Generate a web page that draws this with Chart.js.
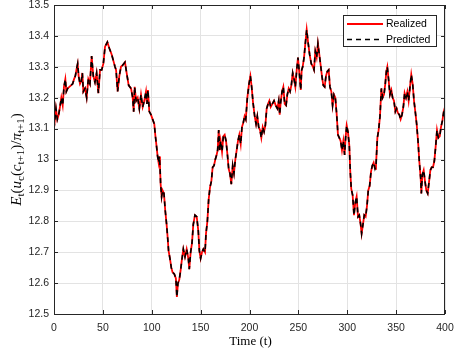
<!DOCTYPE html>
<html>
<head>
<meta charset="utf-8">
<script src="https://cdn.jsdelivr.net/npm/chart.js@4.4.1/dist/chart.umd.min.js"></script>
<style>
  html, body { margin: 0; padding: 0; background: #ffffff; }
  canvas { display: block; }
</style>
</head>
<body>
<canvas id="chart" width="455" height="358"></canvas>
<script>
// Time index of each sample
const timeSteps = [
  0, 2.0, 3.4, 4.8, 6.1, 7.5, 8.9, 10.2, 11.6, 12.6, 14.0, 15.7, 17.4, 19.1, 20.5, 21.8, 23.2, 24.2, 25.2, 26.6,
  28.0, 29.0, 30.0, 31.7, 33.4, 35.1, 36.8, 38.5, 40.2, 41.9, 43.6, 45.4, 47.1, 48.8, 50.5, 52.2, 54.6, 56.6, 59.0, 60.7,
  62.4, 63.5, 65.1, 66.8, 68.5, 70.2, 72.6, 74.3, 76.4, 78.8, 80.5, 81.5, 82.5, 84.0, 85.6, 87.3, 89.0, 90.7, 92.4, 94.1,
  95.1, 96.1, 97.5, 99.2, 100.9, 102.6, 103.6, 105.0, 106.0, 107.0, 107.7, 108.4, 109.1, 110.1, 111.1, 112.5, 113.8, 115.2, 116.2, 117.2,
  118.6, 120.0, 121.3, 123.0, 124.7, 125.7, 126.8, 128.1, 129.5, 130.6, 132.3, 134.0, 135.7, 137.4, 138.4, 139.8, 141.2, 142.5, 144.2, 146.0,
  147.6, 148.7, 150.0, 151.4, 152.8, 154.5, 155.5, 156.9, 158.2, 159.6, 161.0, 162.3, 163.7, 165.0, 166.4, 167.4, 168.5, 169.5, 170.5, 171.9,
  173.2, 174.6, 176.0, 177.3, 178.7, 180.0, 181.4, 182.8, 184.1, 185.5, 186.9, 188.2, 189.6, 191.0, 192.3, 193.7, 195.0, 196.2, 197.8, 199.5,
  200.9, 202.2, 203.6, 205.3, 206.7, 208.0, 209.4, 210.8, 212.1, 213.5, 214.9, 216.2, 217.6, 219.0, 220.3, 221.7, 223.4, 225.1, 226.8, 228.5,
  229.9, 230.9, 231.9, 233.3, 234.6, 236.0, 237.4, 238.7, 240.1, 241.5, 242.8, 244.2, 245.6, 246.9, 248.3, 249.6, 251.0, 252.4, 253.4, 254.4,
  255.8, 257.1, 258.5, 259.9, 261.5, 263.2, 264.9, 266.0, 267.3, 268.7, 270.0, 271.4, 272.8, 274.1, 275.5, 276.9, 278.2, 279.6, 281.0, 282.3,
  283.7, 285.0, 286.4, 287.8, 289.1, 290.5, 291.9, 293.2, 294.6, 296.0, 297.3, 298.3, 299.4, 300.7, 302.1, 303.1, 304.1, 305.5, 306.9, 308.2,
  309.6, 311.0, 312.3, 313.7, 314.7, 316.1, 317.4, 318.8, 320.2, 321.5, 322.9, 324.3, 325.6, 327.0, 328.4, 329.4, 330.8, 332.1, 333.5, 334.9,
  336.2, 337.6, 338.9, 340.0, 341.0, 342.4, 343.7, 345.1, 346.4, 347.8, 349.2, 350.5, 351.9, 353.3, 354.6, 356.0, 357.4, 358.7, 360.1, 361.5,
  362.8, 364.2, 365.5, 366.9, 368.3, 369.6, 371.0, 372.4, 373.7, 375.1, 375.8, 376.8, 378.2, 379.5, 380.9, 382.3, 383.6, 385.0, 386.4, 387.7,
  389.1, 390.4, 391.8, 393.2, 394.6, 395.9, 397.3, 398.7, 400.0
];

// Realized expected marginal utility over inflation
const realizedValues = [
  13.100, 13.165, 13.130, 13.145, 13.170, 13.200, 13.175, 13.235, 13.260, 13.220, 13.230, 13.235, 13.240, 13.245, 13.260, 13.270, 13.295, 13.310, 13.270, 13.245,
  13.255, 13.280, 13.220, 13.230, 13.200, 13.260, 13.245, 13.335, 13.270, 13.250, 13.280, 13.215, 13.290, 13.290, 13.310, 13.365, 13.380, 13.360, 13.340, 13.320,
  13.300, 13.290, 13.220, 13.270, 13.300, 13.305, 13.315, 13.280, 13.240, 13.230, 13.200, 13.155, 13.235, 13.190, 13.200, 13.165, 13.210, 13.170, 13.190, 13.220,
  13.180, 13.225, 13.155, 13.145, 13.130, 13.115, 13.080, 13.040, 13.010, 12.990, 13.010, 12.980, 12.920, 12.880, 12.900, 12.890, 12.835, 12.790, 12.750, 12.705,
  12.680, 12.650, 12.635, 12.630, 12.615, 12.555, 12.600, 12.610, 12.640, 12.670, 12.710, 12.685, 12.710, 12.680, 12.645, 12.700, 12.730, 12.790, 12.820, 12.815,
  12.770, 12.705, 12.680, 12.700, 12.710, 12.700, 12.760, 12.800, 12.870, 12.910, 12.930, 12.975, 12.980, 13.000, 13.015, 13.030, 13.095, 13.030, 13.060, 13.025,
  13.075, 13.080, 13.060, 13.020, 12.970, 12.955, 12.920, 12.980, 12.955, 13.000, 13.030, 13.060, 13.080, 13.050, 13.105, 13.120, 13.140, 13.130, 13.200, 13.245,
  13.270, 13.235, 13.185, 13.140, 13.115, 13.140, 13.105, 13.095, 13.070, 13.105, 13.090, 13.110, 13.165, 13.180, 13.190, 13.170, 13.180, 13.190, 13.175, 13.165,
  13.190, 13.145, 13.185, 13.220, 13.235, 13.180, 13.175, 13.210, 13.230, 13.220, 13.240, 13.280, 13.260, 13.235, 13.290, 13.330, 13.280, 13.225, 13.290, 13.300,
  13.330, 13.375, 13.420, 13.380, 13.340, 13.310, 13.300, 13.290, 13.350, 13.330, 13.375, 13.340, 13.305, 13.270, 13.240, 13.235, 13.270, 13.285, 13.290, 13.235,
  13.220, 13.175, 13.210, 13.200, 13.150, 13.080, 13.070, 13.060, 13.030, 13.060, 13.015, 13.070, 13.110, 13.090, 13.045, 12.960, 12.905, 12.885, 12.820, 12.860,
  12.880, 12.815, 12.820, 12.790, 12.760, 12.790, 12.820, 12.815, 12.850, 12.900, 12.915, 12.960, 12.980, 12.990, 12.970, 12.980, 13.070, 13.095, 13.140, 13.230,
  13.200, 13.210, 13.245, 13.285, 13.300, 13.255, 13.210, 13.225, 13.200, 13.190, 13.155, 13.165, 13.150, 13.145, 13.130, 13.145, 13.170, 13.215, 13.200, 13.220,
  13.190, 13.235, 13.275, 13.245, 13.190, 13.155, 13.115, 13.060, 12.995, 12.940, 12.890, 12.950, 12.965, 12.930, 12.900, 12.890, 12.925, 12.965, 12.975, 12.975,
  12.995, 13.040, 13.095, 13.070, 13.075, 13.105, 13.125, 13.155, 13.170
];

// Model prediction of the same quantity
const predictedValues = [
  13.100, 13.165, 13.130, 13.145, 13.170, 13.200, 13.175, 13.235, 13.260, 13.220, 13.230, 13.235, 13.240, 13.245, 13.260, 13.270, 13.295, 13.310, 13.270, 13.245,
  13.255, 13.280, 13.220, 13.230, 13.200, 13.260, 13.245, 13.335, 13.270, 13.250, 13.280, 13.215, 13.290, 13.290, 13.310, 13.365, 13.380, 13.360, 13.340, 13.320,
  13.300, 13.290, 13.220, 13.270, 13.300, 13.305, 13.315, 13.280, 13.240, 13.230, 13.200, 13.155, 13.235, 13.190, 13.200, 13.165, 13.210, 13.170, 13.190, 13.220,
  13.180, 13.225, 13.155, 13.145, 13.130, 13.115, 13.080, 13.040, 13.010, 12.990, 13.010, 12.980, 12.920, 12.880, 12.900, 12.890, 12.835, 12.790, 12.750, 12.705,
  12.680, 12.650, 12.635, 12.630, 12.615, 12.555, 12.600, 12.610, 12.640, 12.670, 12.710, 12.685, 12.710, 12.680, 12.645, 12.700, 12.730, 12.790, 12.820, 12.815,
  12.770, 12.705, 12.680, 12.700, 12.710, 12.700, 12.760, 12.800, 12.870, 12.910, 12.930, 12.975, 12.980, 13.000, 13.015, 13.030, 13.095, 13.030, 13.060, 13.025,
  13.075, 13.080, 13.060, 13.020, 12.970, 12.955, 12.920, 12.980, 12.955, 13.000, 13.030, 13.060, 13.080, 13.050, 13.105, 13.120, 13.140, 13.130, 13.200, 13.245,
  13.270, 13.235, 13.185, 13.140, 13.115, 13.140, 13.105, 13.095, 13.070, 13.105, 13.090, 13.110, 13.165, 13.180, 13.190, 13.170, 13.180, 13.190, 13.175, 13.165,
  13.190, 13.145, 13.185, 13.220, 13.235, 13.180, 13.175, 13.210, 13.230, 13.220, 13.240, 13.280, 13.260, 13.235, 13.290, 13.330, 13.280, 13.225, 13.290, 13.300,
  13.330, 13.375, 13.420, 13.380, 13.340, 13.310, 13.300, 13.290, 13.350, 13.330, 13.375, 13.340, 13.305, 13.270, 13.240, 13.235, 13.270, 13.285, 13.290, 13.235,
  13.220, 13.175, 13.210, 13.200, 13.150, 13.080, 13.070, 13.060, 13.030, 13.060, 13.015, 13.070, 13.110, 13.090, 13.045, 12.960, 12.905, 12.885, 12.820, 12.860,
  12.880, 12.815, 12.820, 12.790, 12.760, 12.790, 12.820, 12.815, 12.850, 12.900, 12.915, 12.960, 12.980, 12.990, 12.970, 12.980, 13.070, 13.095, 13.140, 13.230,
  13.200, 13.210, 13.245, 13.285, 13.300, 13.255, 13.210, 13.225, 13.200, 13.190, 13.155, 13.165, 13.150, 13.145, 13.130, 13.145, 13.170, 13.215, 13.200, 13.220,
  13.190, 13.235, 13.275, 13.245, 13.190, 13.155, 13.115, 13.060, 12.995, 12.940, 12.890, 12.950, 12.965, 12.930, 12.900, 12.890, 12.925, 12.965, 12.975, 12.975,
  12.995, 13.040, 13.095, 13.070, 13.075, 13.105, 13.125, 13.155, 13.170
];

// Axis ranges and tick spacing
const xTickValues = [0, 50, 100, 150, 200, 250, 300, 350, 400];
const yTickValues = [12.5, 12.6, 12.7, 12.8, 12.9, 13.0, 13.1, 13.2, 13.3, 13.4, 13.5];
const seriesLabels = ['Realized', 'Predicted'];
const xAxisTitle = 'Time (t)';

const toPoints = vals => vals.map((v, i) => ({ x: timeSteps[i], y: v }));

const AXIS_COLOR = '#262626';
const GRID_COLOR = '#e3e3e3';
const SANS = '"Liberation Sans", Arial, Helvetica, sans-serif';
const SERIF = '"Liberation Serif", "Times New Roman", serif';

// Box, inward ticks, legend and axis titles
const framePlugin = {
  id: 'frame',
  afterDraw(chart) {
    const { ctx, chartArea: a, scales } = chart;
    ctx.save();
    ctx.strokeStyle = AXIS_COLOR;
    ctx.lineWidth = 1;
    ctx.strokeRect(a.left + 0.5, a.top + 0.5, a.right - a.left - 1, a.bottom - a.top);

    const tl = 4;
    ctx.beginPath();
    xTickValues.forEach(v => {
      const px = Math.round(scales.x.getPixelForValue(v)) + 0.5;
      ctx.moveTo(px, a.bottom); ctx.lineTo(px, a.bottom - tl);
      ctx.moveTo(px, a.top); ctx.lineTo(px, a.top + tl);
    });
    yTickValues.forEach(v => {
      const py = Math.round(scales.y.getPixelForValue(v)) + 0.5;
      ctx.moveTo(a.left, py); ctx.lineTo(a.left + tl, py);
      ctx.moveTo(a.right, py); ctx.lineTo(a.right - tl, py);
    });
    ctx.stroke();

    // legend
    const lx = 343.5, ly = 15.5, lw = 93, lh = 31;
    ctx.fillStyle = '#ffffff';
    ctx.fillRect(lx, ly, lw, lh);
    ctx.strokeStyle = AXIS_COLOR;
    ctx.lineWidth = 1;
    ctx.strokeRect(lx, ly, lw, lh);
    const ds = chart.data.datasets;
    const rows = [24, 39.5];
    ds.slice().sort((p, q) => seriesLabels.indexOf(p.label) - seriesLabels.indexOf(q.label)).forEach((d, i) => {
      ctx.save();
      ctx.strokeStyle = d.borderColor;
      ctx.lineWidth = d.borderWidth;
      ctx.setLineDash(d.borderDash || []);
      ctx.beginPath();
      ctx.moveTo(347, rows[i]); ctx.lineTo(383, rows[i]);
      ctx.stroke();
      ctx.restore();
      ctx.fillStyle = '#000000';
      ctx.font = '10.5px ' + SANS;
      ctx.textAlign = 'left';
      ctx.textBaseline = 'middle';
      ctx.fillText(d.label, 386, rows[i] + 0.5);
    });

    // x axis title
    ctx.fillStyle = '#000000';
    ctx.font = '13px ' + SERIF;
    ctx.textAlign = 'center';
    ctx.textBaseline = 'middle';
    ctx.fillText(xAxisTitle, (a.left + a.right) / 2 + 1, 342);

    // y axis title: E_t(u_c(c_{t+1})/π_{t+1})
    const main = 15, sub = 11, drop = 3;
    const parts = [
      ['E', 'i'], ['t', 's'], ['(', 'n'], ['u', 'i'], ['c', 's'], ['(', 'n'], ['c', 'i'],
      ['t+1', 's'], [')', 'n'], ['/', 'n'], ['π', 'i'], ['t+1', 's'], [')', 'n']
    ];
    const fontFor = k => k === 'i' ? 'italic ' + main + 'px ' + SERIF
      : k === 's' ? sub + 'px ' + SERIF : main + 'px ' + SERIF;
    let total = 0;
    parts.forEach(([t, k]) => { ctx.font = fontFor(k); total += ctx.measureText(t).width; });
    ctx.translate(21, (a.top + a.bottom) / 2);
    ctx.rotate(-Math.PI / 2);
    ctx.textAlign = 'left';
    ctx.textBaseline = 'alphabetic';
    let cx = -total / 2;
    parts.forEach(([t, k]) => {
      ctx.font = fontFor(k);
      ctx.fillText(t, cx, k === 's' ? drop : 0);
      cx += ctx.measureText(t).width;
    });
    ctx.restore();
  }
};

new Chart(document.getElementById('chart'), {
  type: 'line',
  data: {
    datasets: [
      {
        label: seriesLabels[1],
        data: toPoints(predictedValues),
        borderColor: '#000000',
        borderWidth: 1.6,
        borderDash: [5, 4],
        pointRadius: 0,
        tension: 0,
        order: 0
      },
      {
        label: seriesLabels[0],
        data: toPoints(realizedValues),
        borderColor: '#ff0000',
        borderWidth: 1.8,
        pointRadius: 0,
        tension: 0,
        order: 1
      }
    ]
  },
  options: {
    responsive: false,
    animation: false,
    devicePixelRatio: 1,
    layout: { padding: { top: 5, right: 10, left: 0, bottom: 0 } },
    plugins: { legend: { display: false }, title: { display: false }, tooltip: { enabled: false } },
    scales: {
      x: {
        type: 'linear',
        min: 0,
        max: 400,
        afterBuildTicks: s => { s.ticks = xTickValues.map(v => ({ value: v })); },
        afterFit: s => { s.height = 44; s.paddingLeft = 0; s.paddingRight = 0; },
        ticks: { color: AXIS_COLOR, font: { family: SANS, size: 10.5 }, padding: 8, maxRotation: 0 },
        grid: { color: GRID_COLOR, drawTicks: false, lineWidth: 1 },
        border: { display: false }
      },
      y: {
        type: 'linear',
        min: 12.5,
        max: 13.5,
        afterBuildTicks: s => { s.ticks = yTickValues.map(v => ({ value: v })); },
        afterFit: s => { s.width = 54; s.paddingTop = 0; s.paddingBottom = 0; },
        ticks: {
          color: AXIS_COLOR,
          font: { family: SANS, size: 10.5 },
          padding: 5,
          callback: v => String(+v.toFixed(1))
        },
        grid: { color: GRID_COLOR, drawTicks: false, lineWidth: 1 },
        border: { display: false }
      }
    }
  },
  plugins: [framePlugin]
});
</script>
</body>
</html>
